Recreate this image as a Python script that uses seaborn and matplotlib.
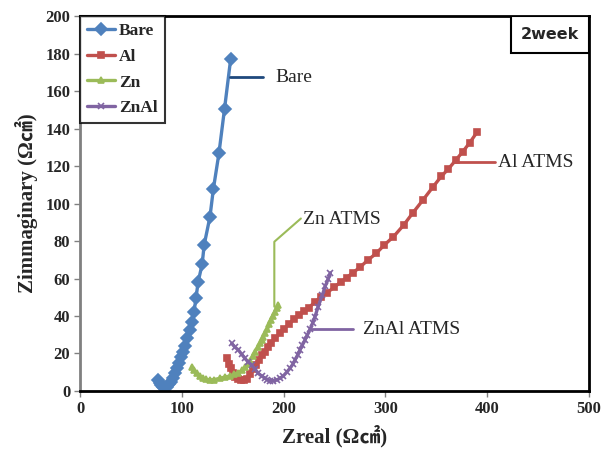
import numpy as np
import pandas as pd
import matplotlib
matplotlib.use("Agg")
import matplotlib.pyplot as plt
from matplotlib.patches import Rectangle
import seaborn as sns

# values (Zreal, Zimag in ohm cm2)
bare_x = [77, 78.5, 80, 82, 83.5, 85, 87, 89, 91, 93, 95, 97, 99, 101, 103, 105.5,
          108, 110, 112, 114, 116, 120, 122, 127.7, 131, 136.5, 142, 148]
bare_y = [6, 4.5, 3, 2, 1.5, 2.2, 3.5, 5, 7, 9.5, 12, 15, 18, 21, 24, 28,
          32.5, 37, 42.3, 49.8, 58, 67.7, 78, 93, 107.7, 126.8, 150.6, 177]

al_x = [144, 146, 148, 150, 152, 155, 158, 161, 164, 167, 170, 173, 176, 179, 182,
        185, 188, 192, 196, 200, 205, 210, 215, 220, 225, 231, 237, 243, 250, 256,
        262, 268, 275, 283, 291, 299, 308, 318, 327, 337, 347, 355, 362, 369, 376,
        383, 390]
al_y = [17.4, 14.5, 12, 9.8, 7.6, 6.3, 5.9, 5.9, 6.5, 8.8, 11.5, 14, 16.5, 19, 21,
        23.6, 25.5, 28, 30.8, 33, 35.5, 38.2, 40.5, 42.5, 44.5, 47.6, 50.3, 52.5,
        55.5, 58, 60.5, 63, 66, 69.9, 73.4, 77.9, 82.3, 88.5, 95, 101.9, 109,
        114.5, 118.5, 123, 127.6, 132.5, 138]

zn_x = [110, 112, 114.6, 118, 121, 124, 127.7, 132, 137.5, 142, 147.3, 151, 155.5,
        159, 162, 165, 167, 169.5, 172, 174.5, 176.8, 178.5, 180, 182, 184, 186,
        187.3, 189.5, 191.6, 193.3, 195]
zn_y = [13, 11, 9.4, 7.8, 6.8, 6.2, 5.9, 6.1, 6.8, 7.4, 8, 8.8, 9.8, 11, 12.6, 14.2,
        16.2, 18.5, 21, 23.2, 25.4, 27.2, 29, 31, 32.9, 35.5, 37.9, 40.2, 42.3,
        44.5, 46]

znal_x = [149, 152, 155.5, 159, 162, 165, 168.6, 172, 175.1, 178.5, 181.7, 184,
          186.6, 190, 193.2, 196.5, 199.7, 203, 206.3, 209, 211.2, 213.8, 216.1,
          218.5, 221, 223.5, 226, 228.5, 230.8, 234, 238, 241, 244, 246]
znal_y = [25.4, 23.5, 21.9, 19.5, 17.4, 15.6, 13.9, 11.7, 9.4, 8, 6.8, 6, 5.5, 5.5,
          5.9, 6.8, 8, 10, 12.1, 14.2, 16.5, 19.2, 21.9, 24.5, 27.2, 30, 32.9,
          36.2, 39.6, 45, 51, 56, 60, 63]

series_names = ["Bare", "Al", "Zn", "ZnAl"]
series_colors = ["#4F81BD", "#C0504D", "#9BBB59", "#8064A2"]
series_markers = ["D", "s", "^", "x"]
series_msize = [6, 4.5, 4.5, 4.5]

xticks = [0, 100, 200, 300, 400, 500]
yticks = [0, 20, 40, 60, 80, 100, 120, 140, 160, 180, 200]

sns.set_theme(style="white")
plt.rcParams['font.family'] = ['Liberation Serif', 'Noto Sans CJK KR', 'DejaVu Sans']

fig = plt.figure(figsize=(6.04, 4.58), dpi=100)
ax = fig.add_axes([0.1325, 0.1463, 0.8425, 0.8187])

data = [(bare_x, bare_y), (al_x, al_y), (zn_x, zn_y), (znal_x, znal_y)]
for (xs, ys), name, col, mk, ms in zip(data, series_names, series_colors,
                                       series_markers, series_msize):
    df = pd.DataFrame({"Zreal": xs, "Zimag": ys})
    sns.lineplot(data=df, x="Zreal", y="Zimag", sort=False, estimator=None,
                 color=col, marker=mk, markersize=ms, markeredgecolor=col,
                 markeredgewidth=1.2, linewidth=2.4, label=name, ax=ax)

ax.set_xlim(0, 500)
ax.set_ylim(0, 200)
ax.set_xticks(xticks)
ax.set_yticks(yticks)
ax.tick_params(axis="both", direction="out", length=4, width=1, color="#808080",
               labelsize=12, bottom=True, left=True, pad=3)
for lab in ax.get_xticklabels() + ax.get_yticklabels():
    lab.set_fontweight("bold")

for side in ["top", "right", "bottom"]:
    ax.spines[side].set_color("black")
    ax.spines[side].set_linewidth(2)
ax.spines["left"].set_color("#808080")
ax.spines["left"].set_linewidth(2)

ax.set_xlabel("Zreal (Ω㎠)", fontsize=15, fontweight="bold", labelpad=6)
ax.set_ylabel("Zimmaginary (Ω㎠)", fontsize=15, fontweight="bold", labelpad=5)

# leader lines and labels
ax.plot([147.6, 180], [167.3, 167.3], color="#1F497D", lw=2)
ax.text(191.5, 167.3, "Bare", fontsize=14, va="center", ha="left")
ax.plot([368.4, 407.7], [122, 122], color="#C0504D", lw=2)
ax.text(411, 122, "Al ATMS", fontsize=14, va="center", ha="left")
ax.plot([190.9, 190.9, 217], [45, 79.6, 92], color="#9BBB59", lw=1.5)
ax.text(219, 91.5, "Zn ATMS", fontsize=14, va="center", ha="left")
ax.plot([226, 268.5], [33, 33], color="#8064A2", lw=2)
ax.text(278.3, 33, "ZnAl ATMS", fontsize=14, va="center", ha="left")

# "2week" box in the top right corner
ax.add_patch(Rectangle((0.847, 0.901), 0.153, 0.099, transform=ax.transAxes,
                       fc="white", ec="black", lw=1.5, zorder=5))
ax.text(0.9235, 0.95, "2week", transform=ax.transAxes, fontsize=11.5,
        fontweight="bold", family=["DejaVu Sans"], ha="center", va="center",
        zorder=6)

leg = ax.legend(loc="upper left", borderaxespad=0, frameon=True, fancybox=False,
                edgecolor="black", prop={"weight": "bold", "size": 12.5},
                handlelength=1.6, handletextpad=0.25, labelspacing=0.55,
                borderpad=0.4)
leg.get_frame().set_linewidth(1.5)

fig.savefig("out.png", dpi=100)
